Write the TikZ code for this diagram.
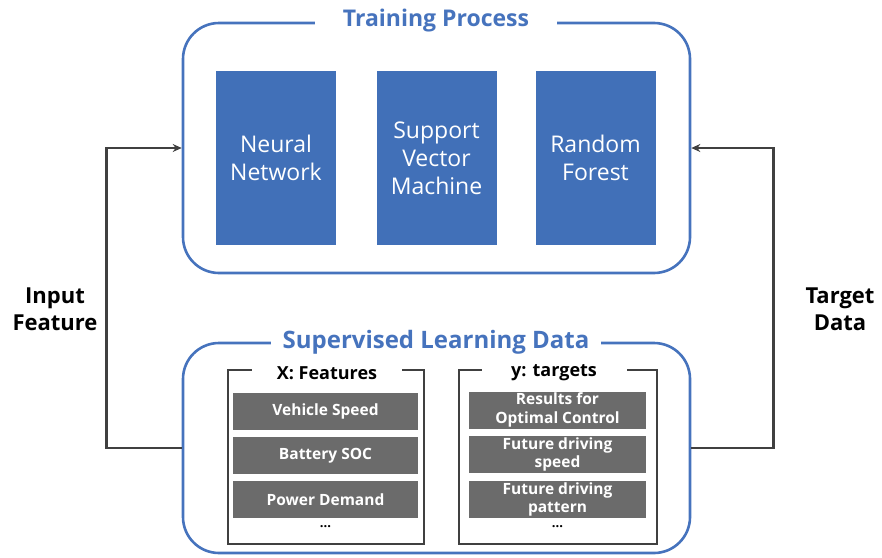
\documentclass[tikz,border=0pt]{standalone}
\usepackage{fontspec}
\setmainfont{Open Sans}
\usetikzlibrary{arrows.meta}
\definecolor{tblue}{HTML}{4673BD}
\definecolor{boxblue}{HTML}{4170B8}
\definecolor{gbox}{HTML}{6B6B6B}
\definecolor{arrgray}{HTML}{404040}
\tikzset{
  outerbox/.style={draw=tblue, line width=2.6pt, rounded corners=36pt, minimum width=507pt},
  titletext/.style={fill=white, text=tblue, font=\bfseries\fontsize{23}{27}\selectfont, inner ysep=1pt},
  model/.style={fill=boxblue, text=white, minimum width=120pt, minimum height=174pt, align=center, font=\fontsize{23}{28}\selectfont},
  bracketbox/.style={draw=black!75, line width=1.2pt, minimum height=174pt},
  subtitle/.style={fill=white, text=black, font=\bfseries\fontsize{18}{21}\selectfont, inner ysep=1pt},
  item/.style={fill=gbox, text=white, align=center, minimum height=37pt, inner sep=0pt, font=\bfseries\fontsize{15.5}{18.5}\selectfont},
  side/.style={text=black, align=center, font=\bfseries\fontsize{22}{27}\selectfont},
  arr/.style={draw=arrgray, line width=2.6pt, -{Stealth[length=9pt,width=8pt]}}
}
\begin{document}
\begin{tikzpicture}[x=1pt,y=-1pt]
\useasboundingbox (0,0) rectangle (882,557);
% Training box
\node[outerbox, minimum height=250pt] (train) at (436.5,148) {};
\node[titletext, minimum width=242pt] (ttitle) at (436,21) {Training Process};
\node[model] (nn) at (276,158) {Neural\\Network};
\node[model] (svm) at (436.5,158) {Support\\Vector\\Machine};
\node[model] (rf) at (595.5,158) {Random\\Forest};
% Data box
\node[outerbox, minimum height=210pt] (data) at (436.5,448) {};
\node[titletext, font=\bfseries\fontsize{24}{28}\selectfont, minimum width=330pt] (dtitle) at (436,342) {Supervised Learning Data};
% X features
\node[bracketbox, minimum width=196pt] (xbox) at (326,457) {};
\node[subtitle, minimum width=150pt] (xtitle) at (327,373) {X: Features};
\node[item, minimum width=185pt] (x1) at (325.5,411) {Vehicle Speed};
\node[item, minimum width=185pt] (x2) at (325.5,455.5) {Battery SOC};
\node[item, minimum width=185pt] (x3) at (325.5,499.5) {Power Demand};
\node[font=\bfseries\fontsize{13}{15}\selectfont] (xd) at (325.5,527) {...};
% y targets
\node[bracketbox, minimum width=198pt] (ybox) at (558,457) {};
\node[subtitle, minimum width=145pt] (ytitle) at (554,373) {y: targets};
\node[item, minimum width=177pt] (y1) at (557.5,410) {Results for\\Optimal Control};
\node[item, minimum width=177pt] (y2) at (557.5,454.5) {Future driving\\speed};
\node[item, minimum width=177pt] (y3) at (557.5,499.5) {Future driving\\pattern};
\node[font=\bfseries\fontsize{13}{15}\selectfont] (yd) at (557.5,527) {...};
% side labels
\node[side] (inlab) at (55,309) {Input\\Feature};
\node[side] (tglab) at (840,309) {Target\\Data};
% arrows
\draw[arr] (data.west) -- ++(-75pt,0) |- (train.west);
\draw[arr] (data.east) -- ++(82pt,0) |- (train.east);
\end{tikzpicture}
\end{document}
